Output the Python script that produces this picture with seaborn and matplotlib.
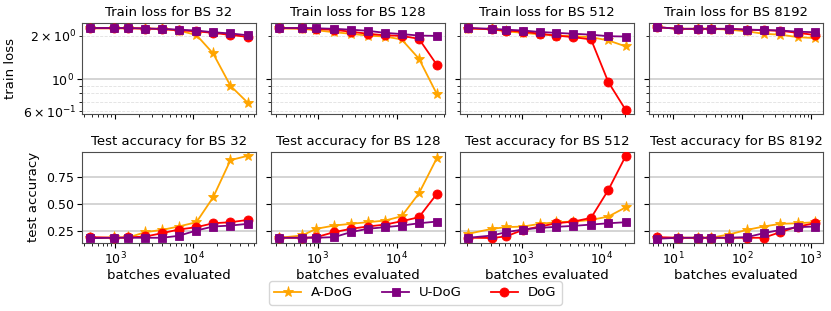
import matplotlib
matplotlib.use("Agg")
import matplotlib.pyplot as plt
import pandas as pd
import seaborn as sns

# batches evaluated for each batch size
steps_bs32 = [480, 980, 1480, 2450, 4000, 6500, 11000, 18000, 30000, 50000]
steps_bs128 = [325, 630, 960, 1610, 2620, 4270, 7100, 11500, 19000, 32000]
steps_bs512 = [205, 415, 620, 1020, 1670, 2690, 4440, 7430, 12300, 20500]
steps_bs8192 = [5.8, 11.8, 23, 35, 64, 118, 206, 362, 650, 1150]

# train loss
loss_adog_bs32 = [2.26, 2.26, 2.26, 2.25, 2.24, 2.18, 2.03, 1.51, 0.90, 0.686]
loss_udog_bs32 = [2.27, 2.27, 2.27, 2.25, 2.24, 2.21, 2.18, 2.12, 2.08, 2.02]
loss_dog_bs32 = [2.26, 2.26, 2.26, 2.25, 2.23, 2.19, 2.15, 2.10, 2.03, 1.97]

loss_adog_bs128 = [2.26, 2.24, 2.19, 2.12, 2.07, 2.01, 1.98, 1.89, 1.39, 0.79]
loss_udog_bs128 = [2.27, 2.27, 2.26, 2.24, 2.21, 2.17, 2.10, 2.06, 2.01, 2.00]
loss_dog_bs128 = [2.26, 2.26, 2.24, 2.20, 2.14, 2.07, 2.02, 2.00, 1.91, 1.26]

loss_adog_bs512 = [2.25, 2.22, 2.15, 2.10, 2.05, 2.01, 1.99, 1.96, 1.86, 1.69]
loss_udog_bs512 = [2.27, 2.24, 2.21, 2.18, 2.13, 2.10, 2.07, 2.04, 1.99, 1.98]
loss_dog_bs512 = [2.26, 2.22, 2.18, 2.14, 2.07, 2.01, 1.96, 1.89, 0.955, 0.61]

loss_adog_bs8192 = [2.30, 2.24, 2.24, 2.24, 2.21, 2.15, 2.07, 2.04, 1.96, 1.93]
loss_udog_bs8192 = [2.30, 2.24, 2.24, 2.24, 2.24, 2.21, 2.20, 2.18, 2.14, 2.12]
loss_dog_bs8192 = [2.30, 2.24, 2.24, 2.24, 2.24, 2.21, 2.19, 2.17, 2.10, 2.03]

# test accuracy
acc_adog_bs32 = [0.19, 0.195, 0.195, 0.244, 0.265, 0.296, 0.336, 0.566, 0.91, 0.95]
acc_udog_bs32 = [0.188, 0.192, 0.192, 0.192, 0.192, 0.21, 0.259, 0.296, 0.305, 0.321]
acc_dog_bs32 = [0.198, 0.192, 0.195, 0.204, 0.234, 0.268, 0.29, 0.326, 0.336, 0.357]

acc_adog_bs128 = [0.192, 0.213, 0.275, 0.305, 0.321, 0.336, 0.351, 0.391, 0.602, 0.928]
acc_udog_bs128 = [0.192, 0.192, 0.192, 0.198, 0.244, 0.275, 0.29, 0.305, 0.326, 0.342]
acc_dog_bs128 = [0.192, 0.192, 0.198, 0.244, 0.275, 0.296, 0.314, 0.345, 0.382, 0.597]

acc_adog_bs512 = [0.229, 0.275, 0.29, 0.296, 0.321, 0.336, 0.342, 0.357, 0.388, 0.474]
acc_udog_bs512 = [0.192, 0.213, 0.244, 0.268, 0.284, 0.293, 0.302, 0.314, 0.326, 0.336]
acc_dog_bs512 = [0.192, 0.19, 0.205, 0.265, 0.296, 0.326, 0.342, 0.376, 0.634, 0.95]

acc_adog_bs8192 = [0.19, 0.192, 0.192, 0.192, 0.222, 0.265, 0.296, 0.321, 0.326, 0.336]
acc_udog_bs8192 = [0.183, 0.192, 0.192, 0.192, 0.192, 0.198, 0.234, 0.265, 0.29, 0.296]
acc_dog_bs8192 = [0.198, 0.192, 0.192, 0.192, 0.192, 0.192, 0.192, 0.244, 0.296, 0.326]

batch_sizes = [32, 128, 512, 8192]
methods = ["A-DoG", "U-DoG", "DoG"]

steps = {32: steps_bs32, 128: steps_bs128, 512: steps_bs512, 8192: steps_bs8192}
loss = {
    32: [loss_adog_bs32, loss_udog_bs32, loss_dog_bs32],
    128: [loss_adog_bs128, loss_udog_bs128, loss_dog_bs128],
    512: [loss_adog_bs512, loss_udog_bs512, loss_dog_bs512],
    8192: [loss_adog_bs8192, loss_udog_bs8192, loss_dog_bs8192],
}
acc = {
    32: [acc_adog_bs32, acc_udog_bs32, acc_dog_bs32],
    128: [acc_adog_bs128, acc_udog_bs128, acc_dog_bs128],
    512: [acc_adog_bs512, acc_udog_bs512, acc_dog_bs512],
    8192: [acc_adog_bs8192, acc_udog_bs8192, acc_dog_bs8192],
}

rows = []
for bs in batch_sizes:
    for m, lvals, avals in zip(methods, loss[bs], acc[bs]):
        for s, l, a in zip(steps[bs], lvals, avals):
            rows.append({"bs": bs, "method": m, "batches": s, "loss": l, "acc": a})
df = pd.DataFrame(rows)

colors = {"A-DoG": "orange", "U-DoG": "purple", "DoG": "red"}
markers = {"A-DoG": "*", "U-DoG": "s", "DoG": "o"}
msizes = {"A-DoG": 8, "U-DoG": 6, "DoG": 6.5}
zorders = {"A-DoG": 2, "DoG": 3, "U-DoG": 4}

plt.rcParams["font.size"] = 9
plt.rcParams["font.family"] = ["DejaVu Sans"]
plt.rcParams["xtick.major.pad"] = 2
plt.rcParams["ytick.major.pad"] = 2.5
plt.rcParams["ytick.minor.pad"] = 2.5

fig, axes = plt.subplots(2, 4, figsize=(8.31, 3.11), dpi=100, sharex="col", sharey="row")
fig.subplots_adjust(left=0.099, right=0.99, top=0.926, bottom=0.219, wspace=0.09, hspace=0.41)

for j, bs in enumerate(batch_sizes):
    sub = df[df["bs"] == bs]
    for i, metric in enumerate(["loss", "acc"]):
        ax = axes[i, j]
        ax.set_xscale("log")
        if metric == "loss":
            ax.set_yscale("log")
        for m in ["A-DoG", "DoG", "U-DoG"]:
            d = sub[sub["method"] == m]
            sns.lineplot(x=d["batches"].values, y=d[metric].values, ax=ax,
                         color=colors[m], marker=markers[m], markersize=msizes[m],
                         markeredgecolor=colors[m], markeredgewidth=0.6,
                         linewidth=1.3, zorder=zorders[m], label=m, legend=False)
        ax.grid(True, axis="y", which="major", color="0.82", linewidth=1.3)
        if metric == "loss":
            ax.grid(True, axis="y", which="minor", color="0.88", linestyle="--", linewidth=0.6)
            ax.set_title(f"Train loss for BS {bs}", fontsize=9.5, pad=5)
        else:
            ax.set_title(f"Test accuracy for BS {bs}", fontsize=9.5, pad=5)
            ax.set_xlabel("batches evaluated", fontsize=9.5, labelpad=1)
        ax.set_axisbelow(True)
        for sp in ax.spines.values():
            sp.set_color("0.3")

axes[1, 0].set_yticks([0.25, 0.5, 0.75])
axes[1, 0].set_yticklabels(["0.25", "0.50", "0.75"])
axes[0, 0].set_ylabel("train loss", fontsize=9.5)
axes[1, 0].set_ylabel("test accuracy", fontsize=9.5)

handles, labels = [], []
h, l = axes[0, 0].get_legend_handles_labels()
lookup = dict(zip(l, h))
for m in methods:
    handles.append(lookup[m])
    labels.append(m)
fig.legend(handles, labels, loc="center", bbox_to_anchor=(0.5, 0.058), ncol=3,
           fontsize=9.5, columnspacing=2.2)

plt.savefig("out.png", dpi=100)
